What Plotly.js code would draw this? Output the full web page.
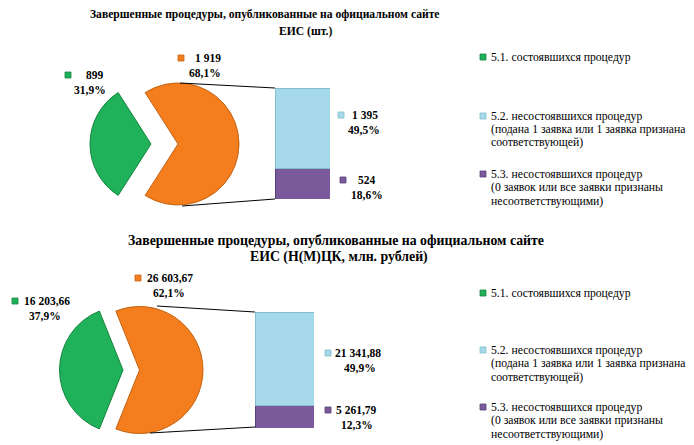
<!DOCTYPE html>
<html><head><meta charset="utf-8">
<script src="https://cdn.plot.ly/plotly-3.0.1.min.js"></script>
<style>html,body{margin:0;padding:0;background:#fff}#chart{width:694px;height:445px}</style>
</head><body><div id="chart"></div>
<script>
// ---- data ----
const categories = ['5.1. состоявшихся процедур', '5.2. несостоявшихся процедур', '5.3. несостоявшихся процедур'];
const categoryNotes = [[], ['(подана 1 заявка или 1 заявка признана', 'соответствующей)'], ['(0 заявок или все заявки признаны', 'несоответствующими)']];
const countTitle = ['Завершенные процедуры, опубликованные на официальном сайте', 'ЕИС (шт.)'];
const sumTitle = ['Завершенные процедуры, опубликованные на официальном сайте', 'ЕИС (Н(М)ЦК, млн. рублей)'];
const countHeld = 899;
const countFailed = [1395, 524];
const sumHeld = 16203.66;
const sumFailed = [21341.88, 5261.79];

// ---- helpers ----
const W = 694, H = 445;
const X = x => x / W, Y = y => 1 - y / H;
const colors = {green: '#20b25a', orange: '#f47e1e', blue: '#a6d9ea', purple: '#7a5a9b'};
const lines = {green: '#14843d', orange: '#c4620f', blue: '#86bccf', purple: '#55407a'};
function fmt(v, dec) {
  const s = v.toFixed(dec).split('.');
  const intp = s[0].replace(/\B(?=(\d{3})+(?!\d))/g, ' ');
  return dec ? intp + ',' + s[1] : intp;
}
function pct(v, t) { return (v / t * 100).toFixed(1).replace('.', ',') + '%'; }

const traces = [], shapes = [], annotations = [];
const font = 'Liberation Serif';

function text(x, y, t, size, anchor) {
  annotations.push({xref: 'paper', yref: 'paper', x: X(x), y: Y(y), xanchor: anchor || 'center', yanchor: 'middle',
    text: t, showarrow: false, font: {family: font, size: size, color: '#000'}});
}

function block(cfg) {
  const held = cfg.held, failed = cfg.failed;
  const failedTotal = failed[0] + failed[1];
  const total = held + failedTotal;
  const vals = [held, failedTotal];
  const rot = -90 - (held / total) * 180;
  const r = cfg.r;
  [[cfg.gx, [colors.green, 'rgba(0,0,0,0)'], [lines.green, 'rgba(0,0,0,0)']],
   [cfg.ox, ['rgba(0,0,0,0)', colors.orange], ['rgba(0,0,0,0)', lines.orange]]].forEach(([cx, cols, lcols]) => {
    traces.push({
      type: 'pie', values: vals, labels: ['held', 'failed'], sort: false,
      direction: 'counterclockwise', rotation: rot, textinfo: 'none', hoverinfo: 'skip',
      marker: {colors: cols, line: {color: lcols, width: 1}}, showlegend: false,
      domain: {x: [X(cx - r), X(cx + r)], y: [Y(cfg.cy + r), Y(cfg.cy - r)]}
    });
  });
  // stacked bar
  const ax = cfg.axis;
  traces.push({type: 'bar', x: ['f'], y: [failed[1]], width: 1, marker: {color: colors.purple, line: {color: lines.purple, width: 1}},
    xaxis: 'x' + ax, yaxis: 'y' + ax, showlegend: false, hoverinfo: 'skip'});
  traces.push({type: 'bar', x: ['f'], y: [failed[0]], width: 1, marker: {color: colors.blue, line: {color: lines.blue, width: 1}},
    xaxis: 'x' + ax, yaxis: 'y' + ax, showlegend: false, hoverinfo: 'skip'});
  cfg.layout['xaxis' + ax] = {domain: [X(cfg.bx0), X(cfg.bx1)], range: [-0.5, 0.5], visible: false, fixedrange: true};
  cfg.layout['yaxis' + ax] = {domain: [Y(cfg.by1), Y(cfg.by0)], range: [0, failedTotal], visible: false, fixedrange: true};
  // connector lines
  cfg.conn.forEach(c => shapes.push({type: 'line', xref: 'paper', yref: 'paper', x0: X(c[0]), y0: Y(c[1]), x1: X(c[2]), y1: Y(c[3]), line: {color: '#000', width: 1}}));
  // titles
  cfg.title.forEach((t, i) => text(cfg.tpos[i][0], cfg.tpos[i][1], '<b>' + t + '</b>', cfg.tsize));
  // data labels
  const labs = [[held, colors.green, lines.green], [failedTotal, colors.orange, lines.orange], [failed[0], colors.blue, lines.blue], [failed[1], colors.purple, lines.purple]];
  labs.forEach((l, i) => {
    const p = cfg.lpos[i];
    text(p[0], p[1], '<b>' + fmt(l[0], cfg.dec) + '</b>', 11.5);
    text(p[3], p[1] + 14.5, '<b>' + pct(l[0], total) + '</b>', 11.5);
    shapes.push({type: 'rect', xref: 'paper', yref: 'paper', x0: X(p[2] - 3), x1: X(p[2] + 3), y0: Y(p[1] + 3), y1: Y(p[1] - 3),
      fillcolor: l[1], line: {color: l[2], width: 0.8}});
  });
  // legend
  const lc = [colors.green, colors.blue, colors.purple], ll = [lines.green, lines.blue, lines.purple];
  categories.forEach((c, i) => {
    const y = cfg.leg[i];
    [c].concat(categoryNotes[i]).forEach((t, j) => text(489, y + j * 13.5, t, 11.7, 'left'));
    shapes.push({type: 'rect', xref: 'paper', yref: 'paper', x0: X(480), x1: X(486), y0: Y(y + 3), y1: Y(y - 3), fillcolor: lc[i], line: {color: ll[i], width: 0.8}});
  });
}

const layout = {width: W, height: H, margin: {l: 0, r: 0, t: 0, b: 0}, paper_bgcolor: '#fff', plot_bgcolor: 'rgba(0,0,0,0)',
  barmode: 'stack', showlegend: false, font: {family: font}};

block({held: countHeld, failed: countFailed, dec: 0, r: 61, cy: 144, gx: 151, ox: 178, axis: '',
  bx0: 275, bx1: 330, by0: 88, by1: 199,
  conn: [[180, 83, 275, 88], [182, 206, 275, 199]],
  title: countTitle, tpos: [[265, 15], [305, 31]], tsize: 11.6,
  lpos: [[95, 75, 68, 90], [208, 58, 181, 205], [365, 115, 341, 364], [367, 180, 343, 367]],
  leg: [57, 116, 174], layout: layout});

block({held: sumHeld, failed: sumFailed, dec: 2, r: 63.5, cy: 370, gx: 123, ox: 139.5, axis: '2',
  bx0: 255, bx1: 314, by0: 312, by1: 428,
  conn: [[157, 306, 255, 312], [150, 433, 255, 427]],
  title: sumTitle, tpos: [[336, 240], [339, 257]], tsize: 13.8,
  lpos: [[47, 301, 15, 45], [170, 278, 138, 169], [358, 353, 328, 360], [356, 410, 328, 357]],
  leg: [293, 350, 407], layout: layout});

layout.xaxis2.anchor = 'y2';
layout.yaxis2.anchor = 'x2';
layout.shapes = shapes;
layout.annotations = annotations;
Plotly.newPlot('chart', traces, layout, {staticPlot: true, displayModeBar: false});
</script></body></html>
